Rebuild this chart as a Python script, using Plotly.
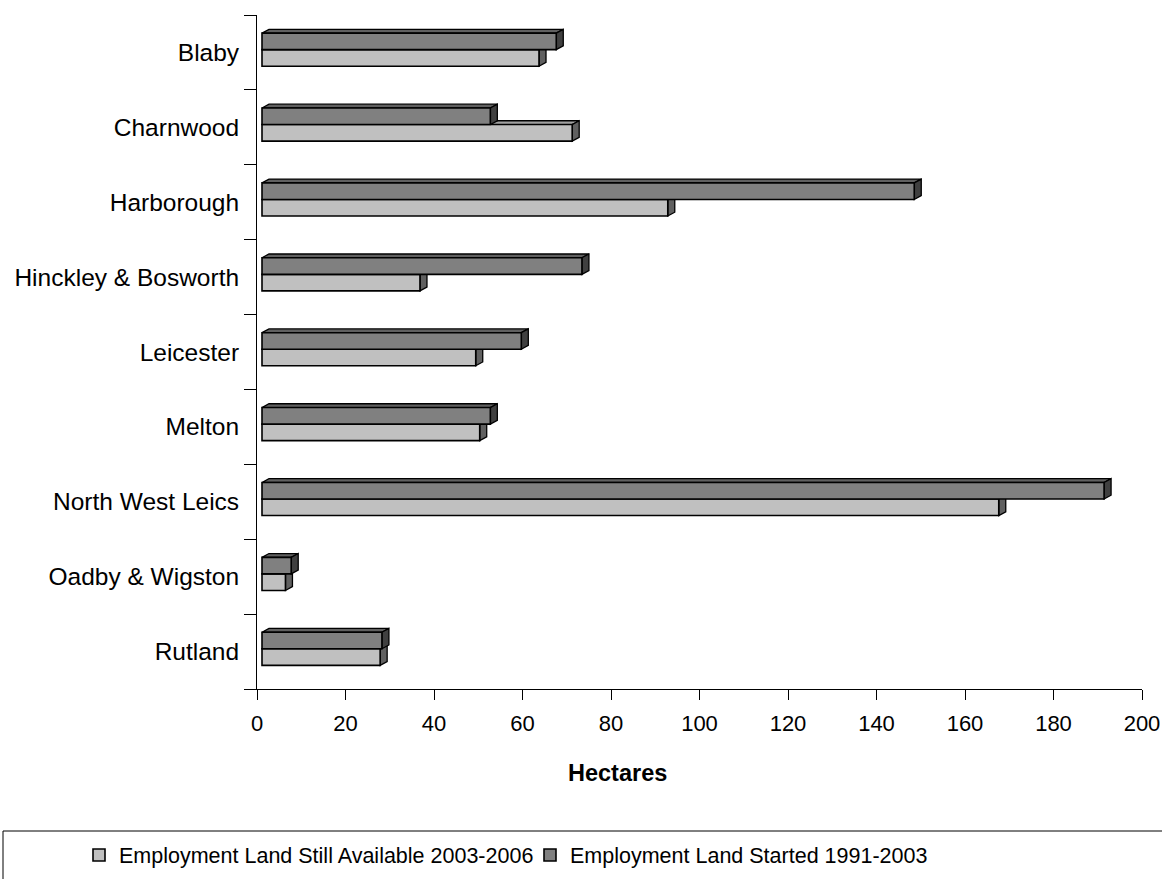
import plotly.graph_objects as go

categories = ["Blaby", "Charnwood", "Harborough", "Hinckley & Bosworth", "Leicester",
              "Melton", "North West Leics", "Oadby & Wigston", "Rutland"]
still_available = [62.6, 70.1, 91.7, 35.7, 48.3, 49.2, 166.5, 5.3, 26.7]
started = [66.5, 51.6, 147.4, 72.3, 58.6, 51.6, 190.3, 6.6, 27.1]
series_names = ["Employment Land Still Available 2003-2006", "Employment Land Started 1991-2003"]
x_ticks = [0, 20, 40, 60, 80, 100, 120, 140, 160, 180, 200]
x_title = "Hectares"

W, H = 1162, 879
ml, mr, mt, mb = 257, 20, 15, 190
plot_w = W - ml - mr
plot_h = H - mt - mb
xmax = 200
px_per_x = plot_w / xmax
px_per_cat = plot_h / len(categories)

# 3D offsets (pixels -> data units)
ox = 5.0 / px_per_x          # front-face shift from axis
dx = 7.0 / px_per_x          # depth to the right
dy = 3.8 / px_per_cat        # depth upwards
bar_w = 0.221
shift = -0.037

pos = list(range(len(categories)))

front = {"light": "#C0C0C0", "dark": "#808080"}
top = {"light": "#A0A0A0", "dark": "#606060"}
side = {"light": "#606060", "dark": "#404040"}

fig = go.Figure()

series = [("light", still_available, shift), ("dark", started, shift - bar_w)]
for (key, vals, off), name in zip(series, series_names):
    fig.add_trace(go.Bar(
        y=pos, x=vals, base=[ox] * len(vals), orientation="h",
        name=name, width=bar_w, offset=off,
        marker=dict(color=front[key], line=dict(color="black", width=1.6)),
        hoverinfo="skip",
    ))

shapes = []
for key, vals, off in series:
    for p, v in zip(pos, vals):
        x0 = ox
        x1 = ox + v
        yt = p + off
        yb = p + off + bar_w
        shapes.append(dict(
            type="path", xref="x", yref="y", layer="below",
            path=f"M {x0} {yt} L {x0+dx} {yt-dy} L {x1+dx} {yt-dy} L {x1} {yt} Z",
            fillcolor=top[key], line=dict(color="black", width=1.3)))
        shapes.append(dict(
            type="path", xref="x", yref="y", layer="below",
            path=f"M {x1} {yt} L {x1+dx} {yt-dy} L {x1+dx} {yb-dy} L {x1} {yb} Z",
            fillcolor=side[key], line=dict(color="black", width=1.3)))

# legend box
shapes.append(dict(type="rect", xref="paper", yref="paper",
                   x0=(3 - ml) / plot_w, x1=(W + 10 - ml) / plot_w,
                   y0=(H - mb - 1000) / plot_h, y1=(H - mb - 831) / plot_h,
                   line=dict(color="black", width=1), fillcolor="rgba(0,0,0,0)", layer="above"))

font = "Liberation Sans, Arial, sans-serif"
fig.update_layout(
    width=W, height=H,
    margin=dict(l=ml, r=mr, t=mt, b=mb, autoexpand=False),
    paper_bgcolor="white", plot_bgcolor="white",
    barmode="overlay",
    shapes=shapes,
    font=dict(family=font, size=22, color="black"),
    showlegend=True,
    legend=dict(orientation="h", x=(79 - ml) / plot_w, y=(H - mb - 855) / plot_h,
                xanchor="left", yanchor="middle",
                entrywidth=406, entrywidthmode="pixels",
                font=dict(family=font, size=21.5, color="black"),
                bgcolor="rgba(0,0,0,0)", itemclick=False),
    annotations=[dict(text=f"<b>{x_title}</b>", xref="paper", yref="paper",
                      x=(617 - ml) / plot_w, y=(H - mb - 773) / plot_h,
                      xanchor="center", yanchor="middle", showarrow=False,
                      font=dict(family=font, size=23.5, color="black"))],
    xaxis=dict(range=[0, xmax], tickvals=x_ticks, ticks="outside", ticklen=10,
               tickcolor="black", showline=True, linecolor="black", linewidth=1,
               showgrid=False, zeroline=False, ticklabelstandoff=5,
               tickfont=dict(size=22)),
    yaxis=dict(range=[len(categories) - 0.5, -0.5], tickvals=pos, ticktext=categories,
               ticks="outside", ticklen=12, tickcolor="rgba(0,0,0,0)",
               minor=dict(tickvals=[p - 0.5 for p in pos] + [len(pos) - 0.5],
                          ticks="outside", ticklen=12, tickcolor="black"),
               showline=True, linecolor="black", linewidth=1,
               showgrid=False, zeroline=False, tickfont=dict(size=24.5)),
)

fig.write_html("out.html", config={"displayModeBar": False},
               post_script="document.body.style.margin='0';")
